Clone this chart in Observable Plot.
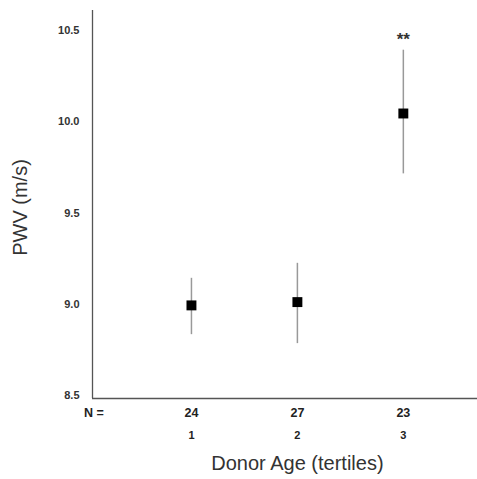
<!DOCTYPE html>
<html>
<head>
<meta charset="utf-8">
<script src="https://cdn.jsdelivr.net/npm/d3@7"></script>
<script src="https://cdn.jsdelivr.net/npm/@observablehq/plot@0.6"></script>
<style>
  html, body { margin: 0; padding: 0; background: #fff; }
  #chart { width: 477px; height: 479px; }
</style>
</head>
<body>
<div id="chart"></div>
<script>
const tertiles = [1, 2, 3];
const nValues = [24, 27, 23];
const means = [8.995, 9.013, 10.044];
const lower = [8.835, 8.786, 9.714];
const upper = [9.143, 9.225, 10.39];
const significance = ["", "", "**"];
const yTicks = [8.5, 9.0, 9.5, 10.0, 10.5];

const rows = tertiles.map((t, i) => ({t, n: nValues[i], mean: means[i], lo: lower[i], hi: upper[i], sig: significance[i]}));
const xDomain = [0.066, 3.70];
const yDomain = [8.486, 10.607];
const font = "'Liberation Sans', Arial, Helvetica, sans-serif";

const plot = Plot.plot({
  width: 477,
  height: 479,
  marginLeft: 92,
  marginRight: 0,
  marginTop: 10,
  marginBottom: 81,
  style: {fontFamily: font, background: "#fff", color: "#222", overflow: "visible"},
  x: {domain: xDomain, axis: null},
  y: {domain: yDomain, axis: null},
  marks: [
    Plot.axisY(yTicks, {tickSize: 0, tickPadding: 13, tickFormat: d3.format(".1f"), fontSize: 11, fontWeight: "bold", label: null, fill: "#333"}),
    Plot.ruleX([xDomain[0]], {stroke: "#555", strokeWidth: 1.3}),
    Plot.ruleY([yDomain[0]], {stroke: "#555", strokeWidth: 1.3}),
    Plot.ruleX(rows, {x: "t", y1: "lo", y2: "hi", stroke: "#999", strokeWidth: 1.5}),
    Plot.dot(rows, {x: "t", y: "mean", symbol: "square", r: 5.6, fill: "#000", stroke: "none"}),
    Plot.text(rows.filter(d => d.sig), {x: "t", y: "hi", text: "sig", dy: -11, fontSize: 17, fontWeight: "bold", fill: "#333"}),
    Plot.text(rows, {x: "t", frameAnchor: "bottom", dy: 18, text: d => String(d.n), fontSize: 12.5, fontWeight: "bold", fill: "#222"}),
    Plot.text(rows, {x: "t", frameAnchor: "bottom", dy: 40, text: d => String(d.t), fontSize: 11, fontWeight: "bold", fill: "#222"}),
    Plot.text(["N ="], {frameAnchor: "bottom-left", dx: 1.5, dy: 18, textAnchor: "middle", fontSize: 12.5, fontWeight: "bold", fill: "#222"}),
    Plot.text(["Donor Age (tertiles)"], {x: () => 2, frameAnchor: "bottom", dy: 71, fontSize: 20, fill: "#333"}),
    Plot.text(["PWV (m/s)"], {frameAnchor: "left", textAnchor: "middle", dx: -72, dy: 3, rotate: -90, fontSize: 20, fill: "#333"})
  ]
});
document.getElementById("chart").appendChild(plot);
</script>
</body>
</html>
